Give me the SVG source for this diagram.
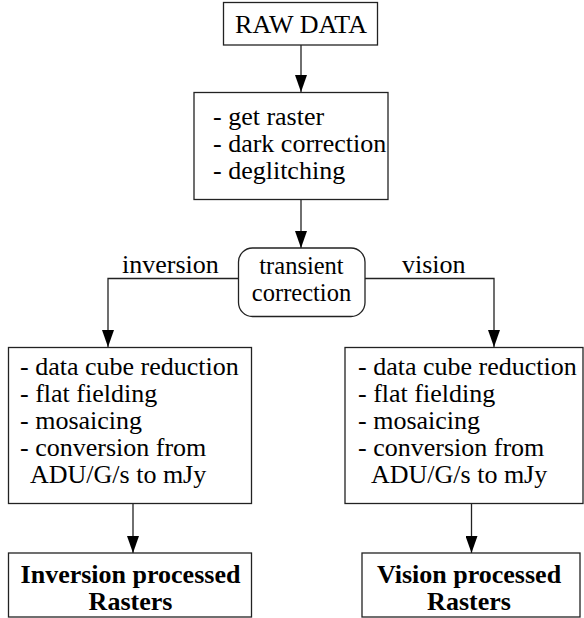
<svg xmlns="http://www.w3.org/2000/svg" width="584" height="618" viewBox="0 0 584 618">
<defs>
<style>
.box{fill:#fff;stroke:#222;stroke-width:1.3}
.ln{fill:none;stroke:#222;stroke-width:1.3}
.t{font-family:'Liberation Serif','Times New Roman',serif;font-size:26px;fill:#000}
.s{font-size:24.5px}
.b{font-weight:bold}
.m{text-anchor:middle}
</style>
<marker id="arr" viewBox="0 0 17 12" refX="17" refY="6" markerWidth="17" markerHeight="12" markerUnits="userSpaceOnUse" orient="auto">
<path d="M0,0 L17,6 L0,12 Z" fill="#000"/>
</marker>
</defs>
<rect width="584" height="618" fill="#fff"/>
<g id="connectors">
<line class="ln" x1="301" y1="45" x2="301" y2="92" marker-end="url(#arr)"/>
<line class="ln" x1="301" y1="200" x2="301" y2="248" marker-end="url(#arr)"/>
<polyline class="ln" points="238,278.5 108,278.5 108,347" marker-end="url(#arr)"/>
<polyline class="ln" points="365,278.5 494,278.5 494,347" marker-end="url(#arr)"/>
<line class="ln" x1="133" y1="503" x2="133" y2="553" marker-end="url(#arr)"/>
<line class="ln" x1="471.5" y1="503" x2="471.5" y2="553" marker-end="url(#arr)"/>
<text class="t" x="122" y="273">inversion</text>
<text class="t" x="402" y="273">vision</text>
</g>
<g id="raw">
<rect class="box" x="223.5" y="2.5" width="154" height="42.5"/>
<text class="t m" x="301" y="33">RAW DATA</text>
</g>
<g id="prep">
<rect class="box" x="194" y="92.5" width="194" height="107"/>
<text class="t" x="213" y="125">- get raster</text>
<text class="t" x="213" y="152">- dark correction</text>
<text class="t" x="213" y="178.5">- deglitching</text>
</g>
<g id="transient">
<rect class="box" x="238.5" y="248" width="126.5" height="68.5" rx="14"/>
<text class="t s m" x="301.5" y="273.5">transient</text>
<text class="t s m" x="301.5" y="301">correction</text>
</g>
<g id="inv-proc">
<rect class="box" x="8.5" y="347.5" width="243" height="156"/>
<text class="t" x="20" y="375">- data cube reduction</text>
<text class="t" x="20" y="402">- flat fielding</text>
<text class="t" x="20" y="429">- mosaicing</text>
<text class="t" x="20" y="456">- conversion from</text>
<text class="t" x="30" y="483">ADU/G/s to mJy</text>
</g>
<g id="vis-proc">
<rect class="box" x="345" y="347.5" width="238" height="156"/>
<text class="t" x="358" y="375">- data cube reduction</text>
<text class="t" x="358" y="402">- flat fielding</text>
<text class="t" x="358" y="429">- mosaicing</text>
<text class="t" x="358" y="456">- conversion from</text>
<text class="t" x="371" y="483">ADU/G/s to mJy</text>
</g>
<g id="inv-out">
<rect class="box" x="8.5" y="553" width="243" height="64"/>
<text class="t m b" x="130.5" y="583">Inversion processed</text>
<text class="t m b" x="130.5" y="610">Rasters</text>
</g>
<g id="vis-out">
<rect class="box" x="362" y="553" width="218" height="64"/>
<text class="t m b" x="469" y="583">Vision processed</text>
<text class="t m b" x="469" y="610">Rasters</text>
</g>
</svg>
